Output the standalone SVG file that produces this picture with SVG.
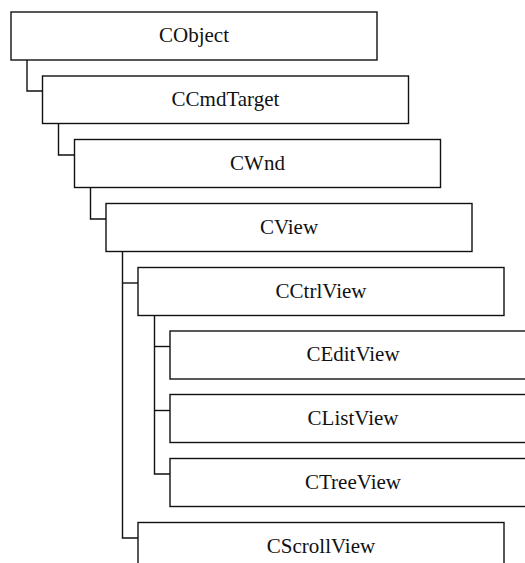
<svg xmlns="http://www.w3.org/2000/svg" width="525" height="563" viewBox="0 0 525 563">
<style>
.box{fill:#fff;stroke:#111;stroke-width:1.4}
.lbl{font-family:"Liberation Serif","Times New Roman",serif;font-size:21px;fill:#111;text-anchor:middle}
.con{fill:none;stroke:#111;stroke-width:1.4}
</style>
<rect width="525" height="563" fill="#fff"/>
<g id="connectors">
<path class="con" d="M27,60 V91 H42"/>
<path class="con" d="M58.5,123.5 V155 H74"/>
<path class="con" d="M90.5,187.5 V219 H106"/>
<path class="con" d="M122.5,251.5 V538 H138"/>
<path class="con" d="M122.5,283 H138"/>
<path class="con" d="M154.5,315.5 V474 H170"/>
<path class="con" d="M154.5,346.5 H170"/>
<path class="con" d="M154.5,410.5 H170"/>
</g>
<g id="CObject"><rect class="box" x="11" y="12" width="366" height="48"/><text class="lbl" x="194" y="42">CObject</text></g>
<g id="CCmdTarget"><rect class="box" x="42.5" y="76" width="366" height="47.5"/><text class="lbl" x="225.5" y="106">CCmdTarget</text></g>
<g id="CWnd"><rect class="box" x="74.5" y="139.5" width="366" height="48"/><text class="lbl" x="257.5" y="169.5">CWnd</text></g>
<g id="CView"><rect class="box" x="106" y="203.5" width="366" height="48"/><text class="lbl" x="289" y="233.5">CView</text></g>
<g id="CCtrlView"><rect class="box" x="138" y="267.5" width="366" height="48"/><text class="lbl" x="321" y="297.5">CCtrlView</text></g>
<g id="CEditView"><rect class="box" x="170" y="331" width="366" height="48"/><text class="lbl" x="353" y="361">CEditView</text></g>
<g id="CListView"><rect class="box" x="170" y="394.5" width="366" height="48"/><text class="lbl" x="353" y="424.5">CListView</text></g>
<g id="CTreeView"><rect class="box" x="170" y="458.5" width="366" height="48"/><text class="lbl" x="353" y="488.5">CTreeView</text></g>
<g id="CScrollView"><rect class="box" x="138" y="522.5" width="366" height="48"/><text class="lbl" x="321" y="552.5">CScrollView</text></g>
</svg>
